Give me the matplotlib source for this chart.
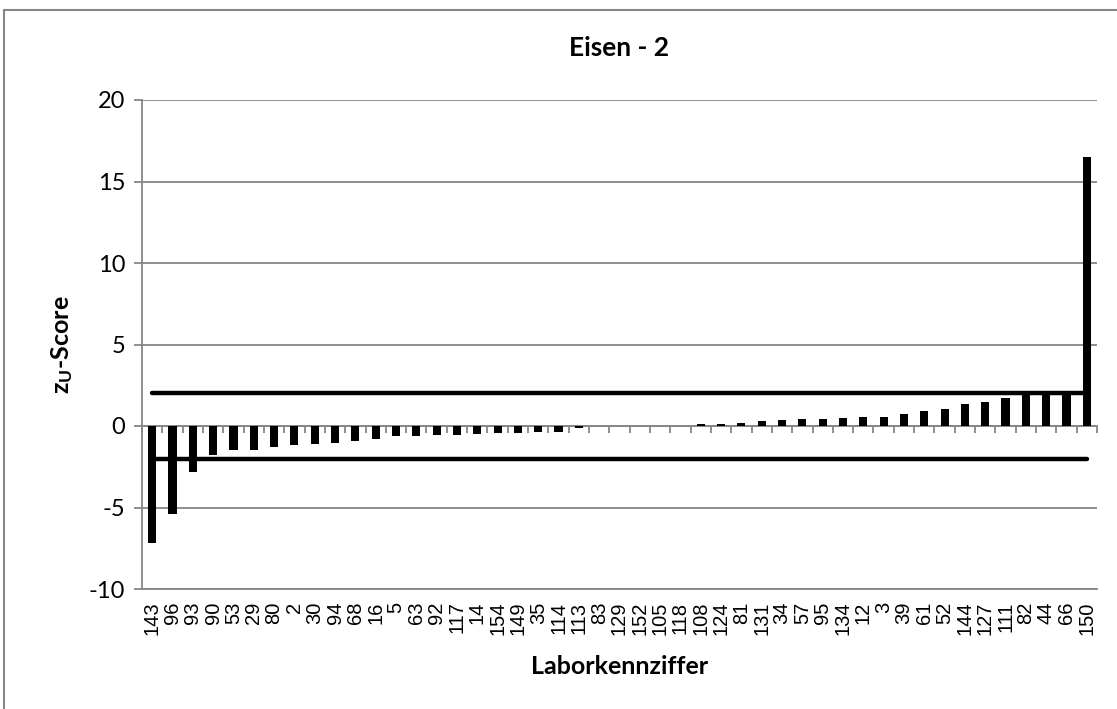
import matplotlib
matplotlib.use("Agg")
import matplotlib.pyplot as plt
from matplotlib.patches import Rectangle

labs = ["143", "96", "93", "90", "53", "29", "80", "2", "30", "94", "68", "16",
        "5", "63", "92", "117", "14", "154", "149", "35", "114", "113", "83",
        "129", "152", "105", "118", "108", "124", "81", "131", "34", "57", "95",
        "134", "12", "3", "39", "61", "52", "144", "127", "111", "82", "44",
        "66", "150"]
zscores = [-7.2, -5.42, -2.84, -1.80, -1.47, -1.45, -1.31, -1.19, -1.08, -1.02,
           -0.90, -0.80, -0.63, -0.61, -0.53, -0.53, -0.47, -0.41, -0.41, -0.35,
           -0.35, -0.10, -0.02, 0.0, 0.0, 0.0, 0.0, 0.14, 0.14, 0.18, 0.29,
           0.35, 0.41, 0.41, 0.47, 0.53, 0.55, 0.72, 0.92, 1.06, 1.35, 1.45,
           1.72, 1.92, 1.95, 1.98, 16.5]
upper = [2] * len(labs)
lower = [-2] * len(labs)

plt.rcParams['font.family'] = ['Lato', 'DejaVu Sans']
plt.rcParams['axes.unicode_minus'] = False
plt.rcParams['mathtext.fontset'] = 'custom'
plt.rcParams['mathtext.bf'] = 'Lato:bold'
plt.rcParams['mathtext.rm'] = 'Lato'

grey = '#868686'
fig = plt.figure(figsize=(11.17, 7.09), dpi=100)
fig.patches.append(Rectangle((4/1117, -0.5), 2, 1.5 - 10/709, transform=fig.transFigure,
                             fill=False, edgecolor=grey, lw=1.5))
ax = fig.add_axes([142/1117, 1 - 589/709, 955/1117, 489/709])

x = list(range(len(labs)))
ax.bar(x, zscores, width=0.4, color='black', zorder=3)
ax.plot(x, upper, color='black', lw=3.2, solid_capstyle='round', zorder=4)
ax.plot(x, lower, color='black', lw=3.2, solid_capstyle='round', zorder=4)

ax.set_xlim(-0.5, len(labs) - 0.5)
ax.set_ylim(-10, 20)
ax.set_yticks([-10, -5, 0, 5, 10, 15, 20])
ax.yaxis.grid(True, color=grey, lw=1.3)
ax.set_axisbelow(True)
for s in ['top', 'right']:
    ax.spines[s].set_visible(False)
ax.spines['left'].set_color(grey)
ax.spines['left'].set_linewidth(1.3)
ax.spines['bottom'].set_color(grey)
ax.spines['bottom'].set_linewidth(1.3)
ax.tick_params(axis='y', length=6, color=grey, width=1.3, labelsize=17, pad=6)
ax.set_xticks(x)
ax.set_xticklabels(labs, rotation=90, fontsize=14.5, family='Liberation Sans')
ax.tick_params(axis='x', length=0, pad=9)

# axis line at zero with category-boundary ticks
sec = ax.secondary_xaxis(1 / 3)
sec.set_xticks([i - 0.5 for i in range(len(labs) + 1)])
sec.set_xticklabels([])
sec.spines['bottom'].set_color(grey)
sec.spines['bottom'].set_linewidth(1.3)
sec.tick_params(axis='x', direction='out', length=5, color=grey, width=1.3)

ax.set_title('Eisen - 2', fontsize=19, fontweight='bold', pad=32)
ax.set_xlabel('Laborkennziffer', fontsize=18, fontweight='bold', labelpad=14)
ax.set_ylabel(r'$\mathbf{z_{U}}$-Score', fontsize=18, fontweight='bold', labelpad=10)

fig.savefig('out.png', dpi=100)
